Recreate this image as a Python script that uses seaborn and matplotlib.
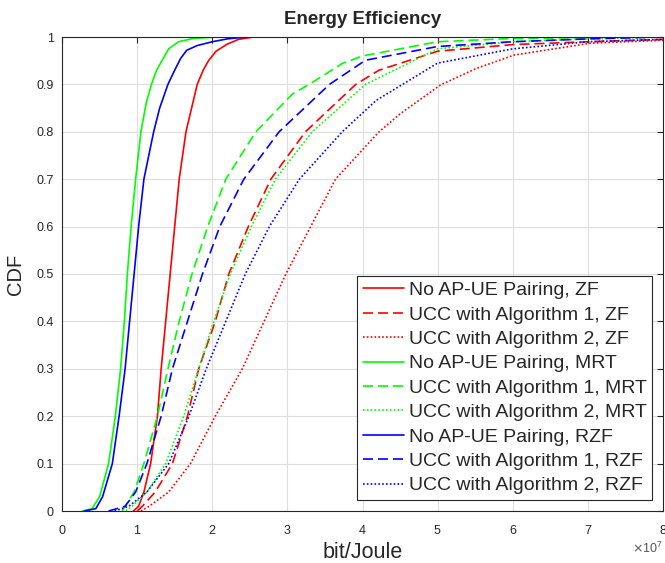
import numpy as np
import pandas as pd
import matplotlib
matplotlib.use("Agg")
import matplotlib.pyplot as plt
from matplotlib.ticker import ScalarFormatter, MultipleLocator
import seaborn as sns

# Energy efficiency CDF samples (x in units of 1e7 bit/Joule)
zf_none_x = [0.95, 1.02, 1.09, 1.18, 1.27, 1.32, 1.38, 1.44, 1.50, 1.56, 1.65, 1.80, 1.88, 1.95, 2.05, 2.2, 2.35, 2.55]
zf_none_y = [0, 0.01, 0.04, 0.1, 0.2, 0.3, 0.4, 0.5, 0.6, 0.7, 0.8, 0.9, 0.93, 0.95, 0.97, 0.985, 0.995, 1.0]

zf_alg1_x = [1.0, 1.07, 1.24, 1.47, 1.67, 1.82, 2.04, 2.22, 2.48, 2.78, 3.24, 3.91, 4.22, 5.0, 6.0, 7.0, 8.0]
zf_alg1_y = [0, 0.01, 0.04, 0.1, 0.2, 0.3, 0.4, 0.5, 0.6, 0.7, 0.8, 0.9, 0.93, 0.97, 0.984, 0.99, 0.995]

zf_alg2_x = [1.05, 1.16, 1.42, 1.71, 2.04, 2.4, 2.69, 2.98, 3.31, 3.64, 4.22, 4.51, 5.04, 5.52, 6.02, 7.04, 8.0]
zf_alg2_y = [0, 0.01, 0.04, 0.1, 0.2, 0.3, 0.4, 0.5, 0.6, 0.7, 0.8, 0.839, 0.899, 0.934, 0.962, 0.987, 0.993]

mrt_none_x = [0.27, 0.4, 0.5, 0.62, 0.71, 0.78, 0.83, 0.87, 0.92, 0.98, 1.05, 1.12, 1.19, 1.26, 1.33, 1.42, 1.55, 1.75, 2.05]
mrt_none_y = [0, 0.005, 0.03, 0.1, 0.2, 0.3, 0.4, 0.5, 0.6, 0.7, 0.8, 0.86, 0.9, 0.93, 0.95, 0.975, 0.99, 0.997, 1.0]

mrt_alg1_x = [0.8, 0.96, 1.09, 1.27, 1.41, 1.56, 1.73, 1.94, 2.18, 2.58, 3.07, 3.29, 3.73, 4.0, 5.0, 6.0, 8.0]
mrt_alg1_y = [0, 0.04, 0.1, 0.2, 0.3, 0.4, 0.5, 0.6, 0.7, 0.8, 0.88, 0.9, 0.944, 0.96, 0.99, 0.997, 1.0]

mrt_alg2_x = [0.85, 0.93, 1.13, 1.38, 1.62, 1.82, 2.02, 2.24, 2.52, 2.84, 3.33, 4.04, 5.0, 6.0, 7.0, 8.0]
mrt_alg2_y = [0, 0.01, 0.04, 0.1, 0.2, 0.3, 0.4, 0.5, 0.6, 0.7, 0.8, 0.9, 0.975, 0.99, 0.996, 1.0]

rzf_none_x = [0.3, 0.45, 0.54, 0.67, 0.76, 0.84, 0.90, 0.96, 1.02, 1.09, 1.22, 1.30, 1.41, 1.5, 1.58, 1.66, 1.8, 2.0, 2.2, 2.45]
rzf_none_y = [0, 0.005, 0.03, 0.1, 0.2, 0.3, 0.4, 0.5, 0.6, 0.7, 0.8, 0.85, 0.9, 0.93, 0.955, 0.972, 0.982, 0.99, 0.996, 1.0]

rzf_alg1_x = [0.62, 0.84, 0.98, 1.13, 1.32, 1.47, 1.67, 1.87, 2.1, 2.42, 2.89, 3.56, 4.04, 5.0, 6.0, 7.0, 8.0]
rzf_alg1_y = [0, 0.01, 0.04, 0.1, 0.2, 0.3, 0.4, 0.5, 0.6, 0.7, 0.8, 0.9, 0.951, 0.98, 0.99, 0.996, 1.0]

rzf_alg2_x = [0.7, 0.89, 1.13, 1.42, 1.69, 1.92, 2.18, 2.44, 2.76, 3.16, 3.73, 4.18, 5.0, 6.0, 7.0, 8.0]
rzf_alg2_y = [0, 0.01, 0.04, 0.1, 0.2, 0.3, 0.4, 0.5, 0.6, 0.7, 0.8, 0.866, 0.945, 0.975, 0.99, 0.995]

labels = [
    "No AP-UE Pairing, ZF", "UCC with Algorithm 1, ZF", "UCC with Algorithm 2, ZF",
    "No AP-UE Pairing, MRT", "UCC with Algorithm 1, MRT", "UCC with Algorithm 2, MRT",
    "No AP-UE Pairing, RZF", "UCC with Algorithm 1, RZF", "UCC with Algorithm 2, RZF",
]
series = [
    (zf_none_x, zf_none_y), (zf_alg1_x, zf_alg1_y), (zf_alg2_x, zf_alg2_y),
    (mrt_none_x, mrt_none_y), (mrt_alg1_x, mrt_alg1_y), (mrt_alg2_x, mrt_alg2_y),
    (rzf_none_x, rzf_none_y), (rzf_alg1_x, rzf_alg1_y), (rzf_alg2_x, rzf_alg2_y),
]
colors = ["#ff0000"] * 3 + ["#00ff00"] * 3 + ["#0000ff"] * 3
styles = ["-", (0, (6, 3)), (0, (1, 1.3))] * 3

sns.set_style("white")
plt.rcParams["font.family"] = ["Liberation Sans", "DejaVu Sans"]

fig = plt.figure(figsize=(6.65, 5.63), dpi=100)
ax = fig.add_axes([62 / 665, 52 / 563, 601 / 665, 474 / 563])

for (xs, ys), lab, col, ls in zip(series, labels, colors, styles):
    df = pd.DataFrame({"x": np.array(xs) * 1e7, "y": ys})
    sns.lineplot(data=df, x="x", y="y", ax=ax, color=col, linestyle=ls,
                 linewidth=1.2, label=lab, estimator=None, sort=False)

ax.set_xlim(0, 8e7)
ax.set_ylim(0, 1)
ax.xaxis.set_major_locator(MultipleLocator(1e7))
fmt = ScalarFormatter(useMathText=True)
fmt.set_powerlimits((0, 0))
ax.xaxis.set_major_formatter(fmt)
ax.set_yticks(np.arange(0, 1.01, 0.1))
ax.set_yticklabels(["0", "0.1", "0.2", "0.3", "0.4", "0.5", "0.6", "0.7", "0.8", "0.9", "1"])

ax.grid(True, color="#dedede", linewidth=0.8)
ax.set_axisbelow(True)
for sp in ax.spines.values():
    sp.set_color("#262626")
    sp.set_linewidth(0.8)
ax.tick_params(direction="in", length=4, width=0.8, top=True, right=True,
               labelsize=9, colors="#262626")
ax.tick_params(axis="x", pad=9)
ax.tick_params(axis="y", pad=6)
ax.xaxis.get_offset_text().set_fontsize(9)
ax.xaxis.get_offset_text().set_color("#555555")

ax.set_title("Energy Efficiency", fontsize=13.5, fontweight="bold", pad=9)
ax.set_xlabel("bit/Joule", fontsize=15.5, color="#262626", labelpad=4)
ax.set_ylabel("CDF", fontsize=14.5, color="#262626", labelpad=8)

leg = ax.legend(loc="lower right", fontsize=14, frameon=True, fancybox=False,
                edgecolor="#262626", framealpha=1, handlelength=2.1,
                handletextpad=0.26, labelspacing=0.35, borderpad=0.3,
                borderaxespad=0.55)
leg.get_frame().set_linewidth(0.8)

fig.savefig("out.png", dpi=100)
